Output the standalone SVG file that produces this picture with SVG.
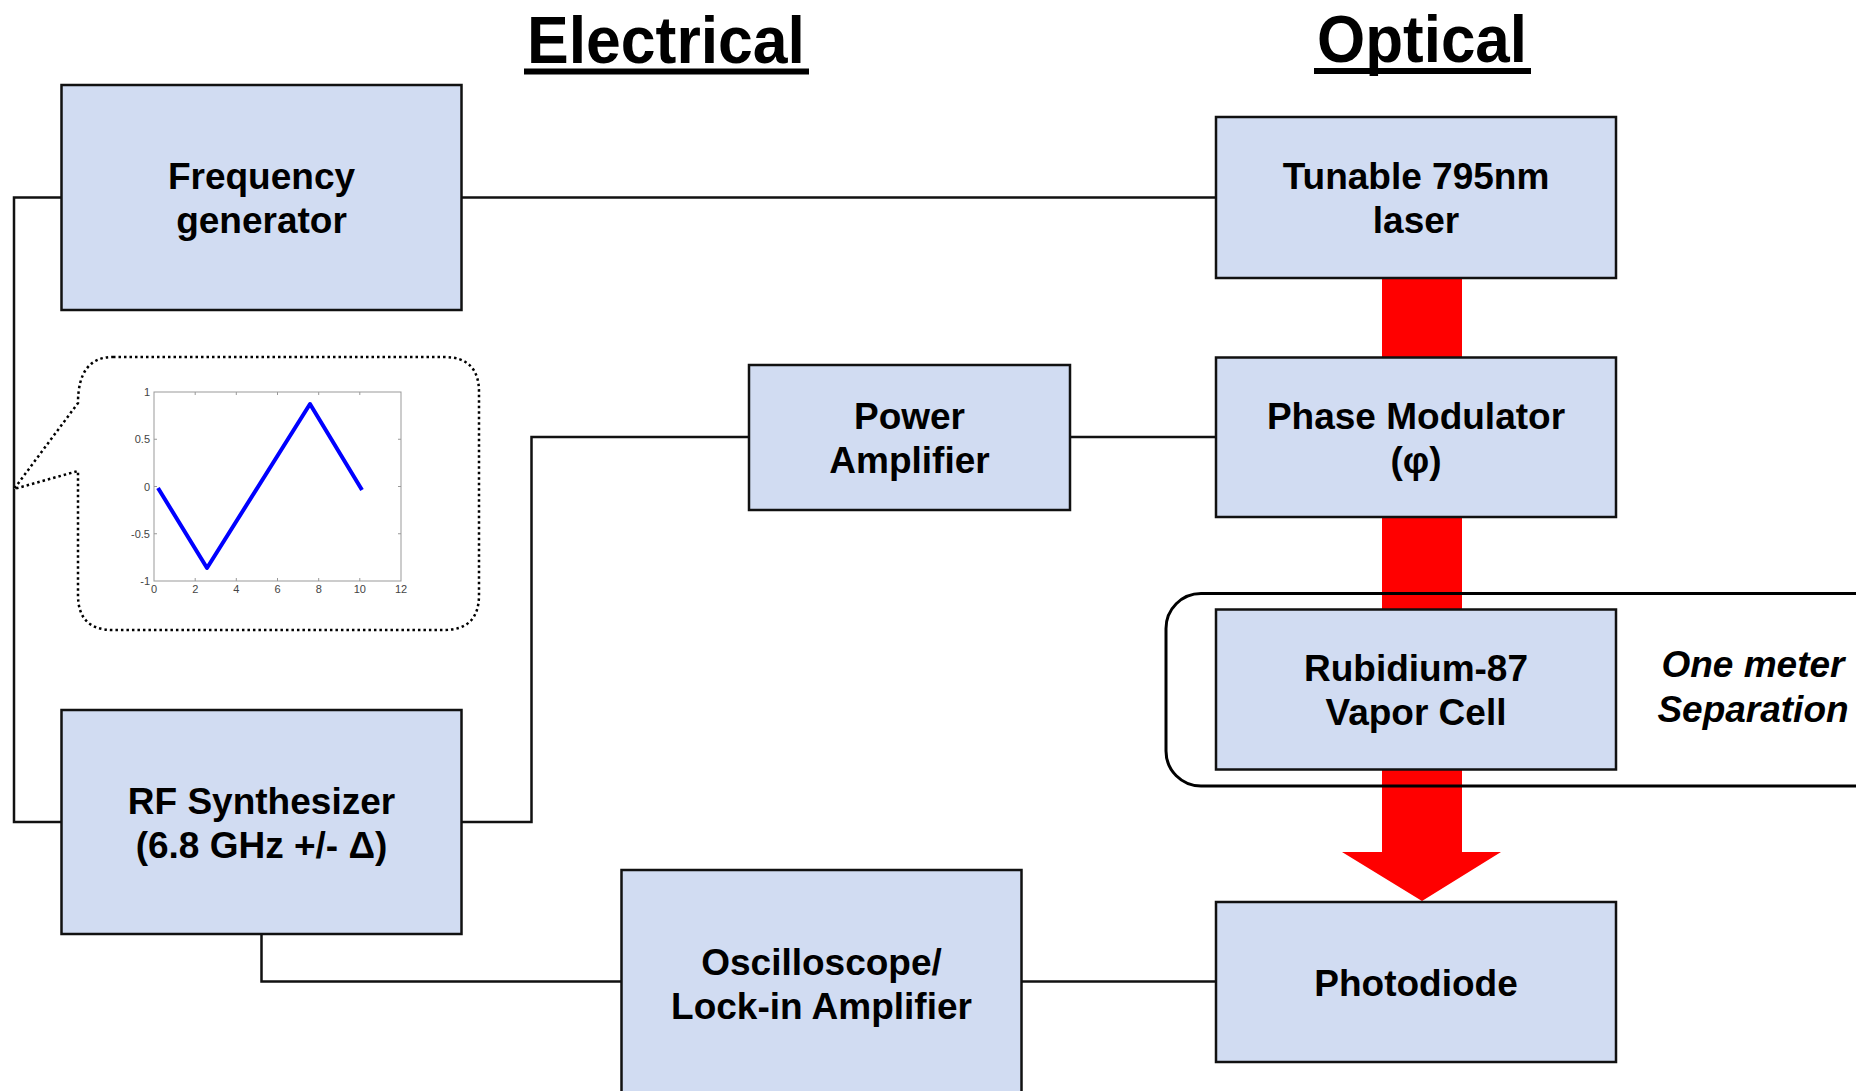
<svg xmlns="http://www.w3.org/2000/svg" width="1856" height="1091" viewBox="0 0 1856 1091">
<style>
.box{fill:#D1DCF2;stroke:#111;stroke-width:2.5}
.lbl{font-family:"Liberation Sans",Arial,sans-serif;font-weight:bold;font-size:37px;fill:#000;text-anchor:middle}
.ital{font-style:italic}
.title{font-family:"Liberation Sans",Arial,sans-serif;font-weight:bold;font-size:66px;fill:#000}
.wire{fill:none;stroke:#111;stroke-width:2.5}
.tick{font-family:"Liberation Sans",Arial,sans-serif;font-size:11px;fill:#444}
.axis{fill:none;stroke:#999;stroke-width:1}
</style>
<rect width="1856" height="1091" fill="#fff"/>

<g id="titles">
<text class="title" x="527" y="63" textLength="278" lengthAdjust="spacingAndGlyphs">Electrical</text>
<rect x="524" y="68.5" width="285" height="6" fill="#000"/>
<text class="title" x="1317" y="62" textLength="210" lengthAdjust="spacingAndGlyphs">Optical</text>
<rect x="1314" y="68" width="217" height="6" fill="#000"/>
</g>

<g id="connectors">
<path class="wire" d="M462,197.5 H1216"/>
<path class="wire" d="M61.5,197.5 H14 V822 H61.5"/>
<path class="wire" d="M461.5,822 H531.5 V437 H749"/>
<path class="wire" d="M1070,437 H1216"/>
<path class="wire" d="M261.5,934 V981.5 H621.5"/>
<path class="wire" d="M1021.5,981.5 H1216"/>
</g>

<g id="beam">
<polygon points="1382,270 1462,270 1462,852 1501,852 1422,901 1342,852 1382,852" fill="#FF0000"/>
</g>

<g id="separation">
<rect x="1166" y="593.5" width="800" height="192.5" rx="35" ry="35" fill="none" stroke="#000" stroke-width="3"/>
<text class="lbl ital" x="1753" y="677">One meter</text>
<text class="lbl ital" x="1753" y="722">Separation</text>
</g>

<g id="freq-gen">
<rect class="box" x="61.5" y="85" width="400" height="225"/>
<text class="lbl" x="261.5" y="189">Frequency</text>
<text class="lbl" x="261.5" y="233">generator</text>
</g>

<g id="laser">
<rect class="box" x="1216" y="117" width="400" height="161"/>
<text class="lbl" x="1416" y="189">Tunable 795nm</text>
<text class="lbl" x="1416" y="233">laser</text>
</g>

<g id="power-amp">
<rect class="box" x="749" y="365" width="321" height="145"/>
<text class="lbl" x="909.5" y="429">Power</text>
<text class="lbl" x="909.5" y="473">Amplifier</text>
</g>

<g id="phase-mod">
<rect class="box" x="1216" y="357.5" width="400" height="159.5"/>
<text class="lbl" x="1416" y="429">Phase Modulator</text>
<text class="lbl" x="1416" y="473">(φ)</text>
</g>

<g id="rb-cell">
<rect class="box" x="1216" y="609.5" width="400" height="160"/>
<text class="lbl" x="1416" y="681">Rubidium-87</text>
<text class="lbl" x="1416" y="725">Vapor Cell</text>
</g>

<g id="rf-synth">
<rect class="box" x="61.5" y="710" width="400" height="224"/>
<text class="lbl" x="261.5" y="814">RF Synthesizer</text>
<text class="lbl" x="261.5" y="858">(6.8 GHz +/- Δ)</text>
</g>

<g id="scope">
<rect class="box" x="621.5" y="870" width="400" height="240"/>
<text class="lbl" x="821.5" y="975">Oscilloscope/</text>
<text class="lbl" x="821.5" y="1019">Lock-in Amplifier</text>
</g>

<g id="photodiode">
<rect class="box" x="1216" y="902" width="400" height="160"/>
<text class="lbl" x="1416" y="996">Photodiode</text>
</g>

<g id="callout">
<path d="M113,357 H444 Q479,357 479,392 V595 Q479,630 444,630 H113 Q78,630 78,595 V471 L14,489 L78,403 Q78,357 113,357 Z" fill="#fff" stroke="#000" stroke-width="2.5" stroke-dasharray="2.5 3"/>
<rect class="axis" x="154" y="392" width="247" height="189"/>
<path class="axis" d="M154,439.25h3M154,486.5h3M154,533.75h3M401,439.25h-3M401,486.5h-3M401,533.75h-3M195.2,581v-3M236.3,581v-3M277.5,581v-3M318.7,581v-3M359.8,581v-3M195.2,392v3M236.3,392v3M277.5,392v3M318.7,392v3M359.8,392v3"/>
<g class="tick" text-anchor="end">
<text x="150" y="396">1</text>
<text x="150" y="443">0.5</text>
<text x="150" y="490.5">0</text>
<text x="150" y="538">-0.5</text>
<text x="150" y="585">-1</text>
</g>
<g class="tick" text-anchor="middle">
<text x="154" y="593">0</text>
<text x="195.2" y="593">2</text>
<text x="236.3" y="593">4</text>
<text x="277.5" y="593">6</text>
<text x="318.7" y="593">8</text>
<text x="359.8" y="593">10</text>
<text x="401" y="593">12</text>
</g>
<polyline points="158,488 207,568 310,404 362,490" fill="none" stroke="#0000FF" stroke-width="4" stroke-linejoin="round"/>
</g>
</svg>
